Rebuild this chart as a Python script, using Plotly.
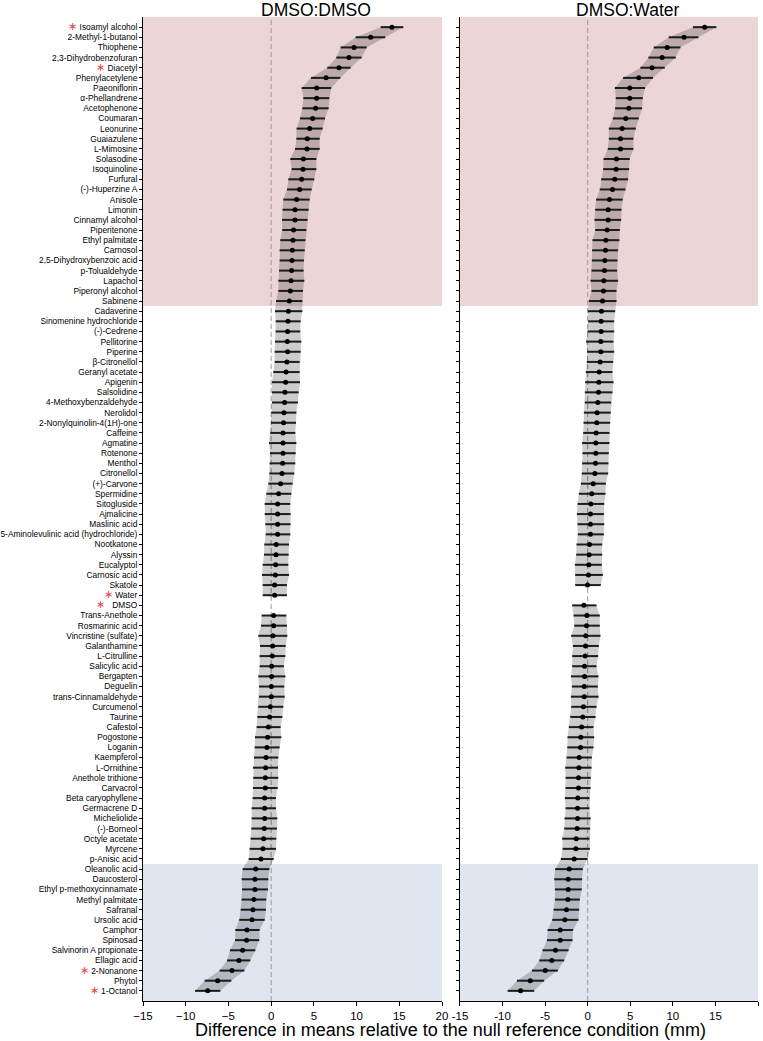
import plotly.graph_objects as go

compounds = [
    "Isoamyl alcohol", "2-Methyl-1-butanol", "Thiophene", "2,3-Dihydrobenzofuran", "Diacetyl",
    "Phenylacetylene", "Paeoniflorin", "α-Phellandrene", "Acetophenone", "Coumaran",
    "Leonurine", "Guaiazulene", "L-Mimosine", "Solasodine", "Isoquinoline",
    "Furfural", "(-)-Huperzine A", "Anisole", "Limonin", "Cinnamyl alcohol",
    "Piperitenone", "Ethyl palmitate", "Carnosol", "2,5-Dihydroxybenzoic acid", "p-Tolualdehyde",
    "Lapachol", "Piperonyl alcohol", "Sabinene", "Cadaverine", "Sinomenine hydrochloride",
    "(-)-Cedrene", "Pellitorine", "Piperine", "β-Citronellol", "Geranyl acetate",
    "Apigenin", "Salsolidine", "4-Methoxybenzaldehyde", "Nerolidol", "2-Nonylquinolin-4(1H)-one",
    "Caffeine", "Agmatine", "Rotenone", "Menthol", "Citronellol",
    "(+)-Carvone", "Spermidine", "Sitogluside", "Ajmalicine", "Maslinic acid",
    "5-Aminolevulinic acid (hydrochloride)", "Nootkatone", "Alyssin", "Eucalyptol", "Carnosic acid",
    "Skatole", "Water", "DMSO", "Trans-Anethole", "Rosmarinic acid",
    "Vincristine (sulfate)", "Galanthamine", "L-Citrulline", "Salicylic acid", "Bergapten",
    "Deguelin", "trans-Cinnamaldehyde", "Curcumenol", "Taurine", "Cafestol",
    "Pogostone", "Loganin", "Kaempferol", "L-Ornithine", "Anethole trithione",
    "Carvacrol", "Beta caryophyllene", "Germacrene D", "Micheliolide", "(-)-Borneol",
    "Octyle acetate", "Myrcene", "p-Anisic acid", "Oleanolic acid", "Daucosterol",
    "Ethyl p-methoxycinnamate", "Methyl palmitate", "Safranal", "Ursolic acid", "Camphor",
    "Spinosad", "Salvinorin A propionate", "Ellagic acid", "2-Nonanone", "Phytol",
    "1-Octanol",
]

starred = ["Isoamyl alcohol", "Diacetyl", "Water", "DMSO", "2-Nonanone", "1-Octanol"]

# DMSO:DMSO panel
dd_mean = [14.14, 11.65, 9.70, 9.11, 7.94, 6.42, 5.33, 5.33, 5.21, 4.86,
           4.51, 4.23, 4.19, 3.77, 3.73, 3.57, 3.34, 2.98, 2.79, 2.79,
           2.63, 2.56, 2.48, 2.44, 2.40, 2.32, 2.24, 2.13, 2.01, 1.97,
           1.93, 1.89, 1.93, 1.85, 1.74, 1.70, 1.62, 1.58, 1.50, 1.46,
           1.39, 1.39, 1.39, 1.35, 1.27, 1.11, 0.88, 0.76, 0.76, 0.76,
           0.76, 0.60, 0.57, 0.53, 0.49, 0.41, 0.41, None, 0.29, 0.29,
           0.21, 0.18, 0.14, 0.06, 0.06, 0.02, 0.02, -0.10, -0.18, -0.33,
           -0.41, -0.49, -0.60, -0.64, -0.68, -0.68, -0.76, -0.76, -0.76, -0.80,
           -0.88, -0.96, -1.19, -1.81, -1.89, -1.89, -2.01, -2.13, -2.24, -2.83,
           -2.87, -3.34, -3.77, -4.58, -6.26, -7.43]
dd_lo = [12.82, 9.89, 8.13, 7.63, 6.57, 4.66, 3.57, 3.77, 3.65, 3.38,
         2.98, 2.95, 2.79, 2.24, 2.40, 2.01, 1.85, 1.42, 1.34, 1.27,
         1.30, 1.07, 0.99, 0.99, 0.92, 0.84, 0.84, 0.57, 0.45, 0.53,
         0.53, 0.45, 0.41, 0.41, 0.25, 0.10, 0.10, 0.10, 0.02, -0.02,
         -0.10, -0.25, -0.14, -0.18, -0.21, -0.33, -0.57, -0.76, -0.76, -0.68,
         -0.64, -0.80, -0.84, -0.99, -1.07, -0.99, -0.99, None, -1.11, -1.19,
         -1.50, -1.31, -1.35, -1.35, -1.50, -1.42, -1.42, -1.50, -1.62, -1.70,
         -1.89, -1.93, -2.01, -2.13, -2.09, -2.13, -2.17, -2.28, -2.28, -2.32,
         -2.40, -2.52, -2.63, -3.34, -3.45, -3.41, -3.45, -3.57, -3.73, -4.19,
         -4.23, -4.82, -5.17, -6.03, -7.78, -8.91]
dd_hi = [15.47, 13.36, 11.18, 10.59, 9.30, 8.10, 7.04, 6.81, 6.73, 6.30,
         6.03, 5.68, 5.68, 5.29, 5.29, 5.05, 4.74, 4.51, 4.39, 4.27,
         4.12, 4.00, 3.92, 3.84, 3.80, 3.88, 3.73, 3.65, 3.65, 3.45,
         3.41, 3.53, 3.45, 3.34, 3.34, 3.38, 3.22, 3.14, 2.95, 2.91,
         2.83, 2.95, 2.87, 2.83, 2.71, 2.52, 2.36, 2.24, 2.28, 2.28,
         2.24, 2.09, 2.05, 2.01, 2.09, 1.85, 1.85, None, 1.78, 1.85,
         1.89, 1.70, 1.66, 1.50, 1.66, 1.54, 1.58, 1.42, 1.31, 1.11,
         1.19, 0.99, 0.84, 0.80, 0.84, 0.76, 0.57, 0.57, 0.72, 0.68,
         0.60, 0.57, 0.29, -0.21, -0.33, -0.37, -0.57, -0.60, -0.76, -1.35,
         -1.39, -1.85, -2.44, -3.14, -4.66, -5.95]

# DMSO:Water panel
dw_mean = [13.74, 11.32, 9.33, 8.74, 7.56, 6.00, 4.94, 4.94, 4.83, 4.47,
           4.04, 3.85, 3.85, 3.38, 3.34, 3.18, 2.91, 2.56, 2.40, 2.40,
           2.28, 2.13, 2.09, 2.01, 1.97, 1.89, 1.85, 1.74, 1.62, 1.58,
           1.58, 1.54, 1.54, 1.46, 1.35, 1.31, 1.27, 1.19, 1.11, 1.07,
           0.99, 0.95, 0.95, 0.92, 0.84, 0.65, 0.48, 0.37, 0.33, 0.33,
           0.33, 0.21, 0.17, 0.13, 0.09, -0.02, None, -0.45, -0.10, -0.14,
           -0.22, -0.26, -0.30, -0.37, -0.37, -0.41, -0.41, -0.49, -0.57, -0.72,
           -0.81, -0.84, -1.00, -1.04, -1.08, -1.08, -1.16, -1.19, -1.19, -1.24,
           -1.35, -1.39, -1.59, -2.17, -2.29, -2.29, -2.33, -2.49, -2.68, -3.23,
           -3.23, -3.77, -4.21, -4.99, -6.75, -7.88]
dw_lo = [12.37, 9.52, 7.76, 7.13, 6.19, 4.16, 3.19, 3.30, 3.22, 2.95,
         2.48, 2.48, 2.36, 1.86, 1.82, 1.58, 1.42, 0.99, 0.88, 0.80,
         0.88, 0.56, 0.52, 0.49, 0.45, 0.33, 0.45, 0.13, 0.02, 0.05,
         -0.02, -0.18, -0.06, -0.10, -0.22, -0.30, -0.34, -0.34, -0.45, -0.49,
         -0.53, -0.65, -0.61, -0.65, -0.69, -0.80, -1.04, -1.19, -1.27, -1.20,
         -1.16, -1.31, -1.35, -1.50, -1.47, -1.47, None, -1.82, -1.66, -1.58,
         -1.94, -1.74, -1.82, -1.82, -1.97, -1.86, -1.97, -1.94, -2.05, -2.21,
         -2.37, -2.40, -2.48, -2.64, -2.60, -2.60, -2.68, -2.60, -2.72, -2.76,
         -2.99, -2.95, -3.15, -3.82, -3.93, -3.85, -3.85, -4.01, -4.16, -4.71,
         -4.79, -5.30, -5.69, -6.55, -8.31, -9.40]
dw_hi = [15.11, 13.00, 10.89, 10.34, 9.05, 7.68, 6.74, 6.47, 6.39, 6.00,
         5.65, 5.37, 5.37, 4.94, 4.87, 4.75, 4.44, 4.12, 3.97, 3.93,
         3.77, 3.73, 3.57, 3.50, 3.46, 3.57, 3.38, 3.38, 3.22, 3.11,
         3.11, 3.03, 3.11, 2.99, 2.91, 3.03, 2.91, 2.75, 2.71, 2.64,
         2.56, 2.56, 2.48, 2.44, 2.40, 2.13, 2.09, 1.94, 1.90, 1.94,
         1.90, 1.70, 1.70, 1.66, 1.78, 1.54, None, 1.03, 1.42, 1.42,
         1.50, 1.31, 1.23, 1.03, 1.27, 1.19, 1.27, 1.03, 0.92, 0.68,
         0.76, 0.68, 0.49, 0.45, 0.37, 0.33, 0.21, 0.21, 0.33, 0.29,
         0.21, 0.25, -0.02, -0.57, -0.65, -0.69, -0.92, -1.00, -1.08, -1.71,
         -1.78, -2.25, -2.76, -3.50, -5.11, -6.28]

x_tickvals = [-15, -10, -5, 0, 5, 10, 15, 20]
x_ticktext_left = ["\u221215", "\u221210", "\u22125", "0", "5", "10", "15", "20"]
x_ticktext_right = ["-15", "-10", "-5", "0", "5", "10", "15", "20"]

panel_titles = ["DMSO:DMSO", "DMSO:Water"]
x_title = "Difference in means relative to the null reference condition (mm)"

# highlighted row blocks (first and last compound of each block)
red_block = ("Isoamyl alcohol", "Sabinene")
blue_block = ("Oleanolic acid", "1-Octanol")

FONT = "Arial, 'Liberation Sans', Helvetica, sans-serif"
rows = list(range(1, len(compounds) + 1))
pos = {c: r for c, r in zip(compounds, rows)}


def label(name):
    if name in starred:
        star = '<span style="color:#e5434a;font-size:11px">\u2217</span>'
        sep = "\u00a0\u00a0\u00a0" if name == "DMSO" else "\u00a0"
        return star + sep + name
    return name


ticktext = [label(c) for c in compounds]

fig = go.Figure()


def add_panel(mean, lo, hi, xa, ya):
    segments, seg = [], []
    for r, m, l, h in zip(rows, mean, lo, hi):
        if m is None:
            if seg:
                segments.append(seg)
            seg = []
        else:
            seg.append((r, l, h))
    if seg:
        segments.append(seg)
    for s in segments:
        ys = [r for r, _, _ in s] + [r for r, _, _ in reversed(s)]
        xs = [h for _, _, h in s] + [l for _, l, _ in reversed(s)]
        fig.add_trace(go.Scatter(x=xs, y=ys, mode="lines", fill="toself",
                                 fillcolor="rgba(0,0,0,0.2)", line=dict(width=0),
                                 hoverinfo="skip", showlegend=False, xaxis=xa, yaxis=ya))
    plus = [None if m is None else h - m for m, h in zip(mean, hi)]
    minus = [None if m is None else m - l for m, l in zip(mean, lo)]
    fig.add_trace(go.Scatter(
        x=mean, y=rows, mode="markers",
        marker=dict(color="black", size=5),
        error_x=dict(type="data", symmetric=False, array=plus, arrayminus=minus,
                     thickness=2, width=0, color="#1c1c1c"),
        showlegend=False, xaxis=xa, yaxis=ya))


add_panel(dd_mean, dd_lo, dd_hi, "x", "y")
add_panel(dw_mean, dw_lo, dw_hi, "x2", "y2")

shapes = []
for xr, yr in (("x", "y"), ("x2", "y2")):
    shapes.append(dict(type="rect", xref=f"{xr} domain", yref=yr, x0=0, x1=1,
                       y0=pos[red_block[0]] - 1, y1=pos[red_block[1]] + 0.5,
                       fillcolor="#ecd5d7", line=dict(width=0), layer="below"))
    shapes.append(dict(type="rect", xref=f"{xr} domain", yref=yr, x0=0, x1=1,
                       y0=pos[blue_block[0]] - 0.5, y1=pos[blue_block[1]] + 1,
                       fillcolor="#dfe6f0", line=dict(width=0), layer="below"))
    shapes.append(dict(type="line", xref=xr, yref=f"{yr} domain", x0=0, x1=0, y0=0, y1=1,
                       line=dict(color="#9a9a9a", width=1, dash="5px,3px"), layer="below"))

yrange = [len(compounds) + 1, 0]
axis_common = dict(showline=True, linecolor="black", linewidth=1, ticks="outside",
                   tickcolor="black", showgrid=False, zeroline=False, automargin=False)

fig.update_layout(
    width=763, height=1041,
    margin=dict(l=143, r=5, t=17, b=40),
    paper_bgcolor="white", plot_bgcolor="white",
    font=dict(family=FONT, color="black"),
    shapes=shapes,
    xaxis=dict(domain=[0, 0.4862], range=[-15, 20], tickvals=x_tickvals, ticktext=x_ticktext_left,
               ticklen=4, tickfont=dict(size=11.5), anchor="y", **axis_common),
    xaxis2=dict(domain=[0.5154, 1], range=[-15, 20], tickvals=x_tickvals, ticktext=x_ticktext_right,
                ticklen=4, tickfont=dict(size=11.5), anchor="y2", **axis_common),
    yaxis=dict(range=yrange, tickvals=rows, ticktext=ticktext, ticklen=3,
               tickfont=dict(size=8.4), anchor="x", **axis_common),
    yaxis2=dict(range=yrange, tickvals=rows, showticklabels=False, ticklen=3,
                anchor="x2", **axis_common),
    annotations=[
        dict(text=panel_titles[0], x=0.2813, y=1, xref="paper", yref="paper", yshift=7,
             xanchor="center", showarrow=False, yanchor="middle", font=dict(size=17.5)),
        dict(text=panel_titles[1], x=0.7886, y=1, xref="paper", yref="paper", yshift=7,
             xanchor="center", showarrow=False, yanchor="middle", font=dict(size=17.5)),
        dict(text=x_title, x=0.5, y=0, xref="paper", yref="paper", yshift=-29,
             xanchor="center", showarrow=False, yanchor="middle", font=dict(size=18)),
    ],
)

fig.write_html("out.html", config={"displayModeBar": False},
               post_script="document.body.style.margin='0';document.body.style.padding='0';")
